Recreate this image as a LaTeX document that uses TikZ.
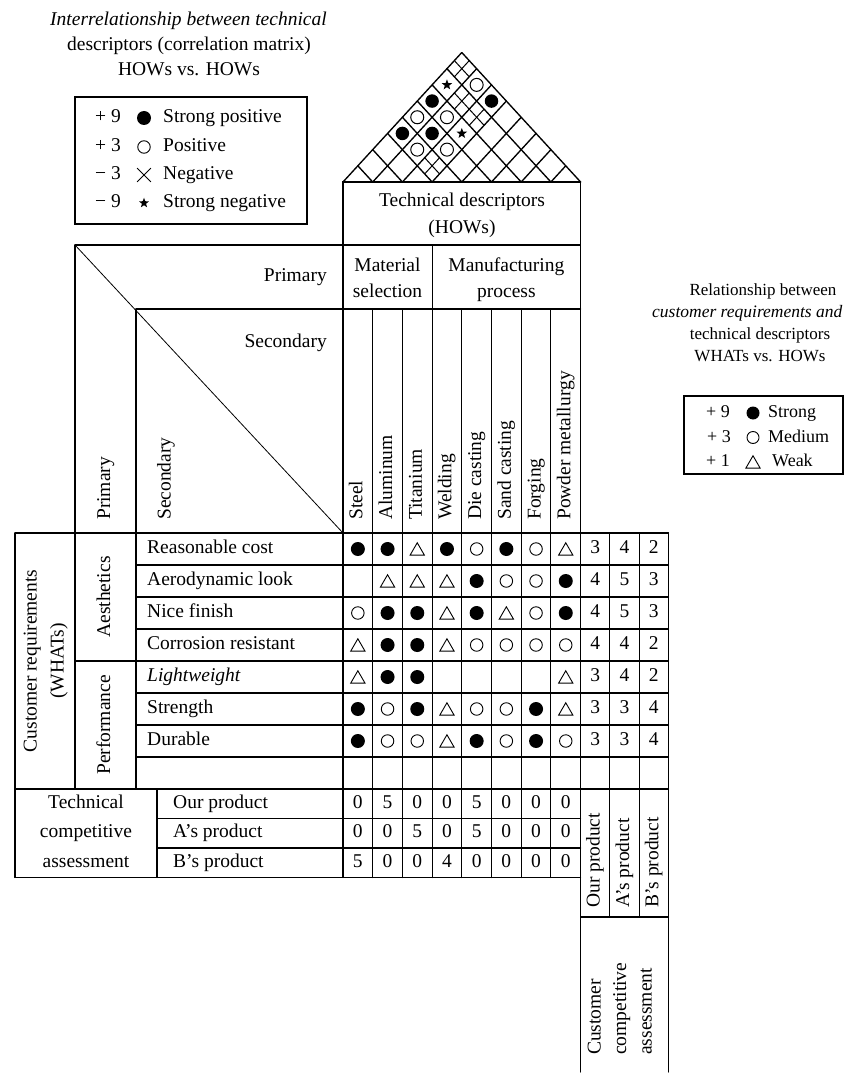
\documentclass[tikz,border=0pt]{standalone}
\usepackage{fontspec}
\setmainfont{Liberation Serif}
\usetikzlibrary{shapes.geometric,shapes.misc}
\begin{document}
\begin{tikzpicture}[x=1pt,y=-1pt,
  ruling/.style={line width=1.1pt, line cap=round},
  diag/.style={line width=0.8pt},
  roofline/.style={line width=1.35pt, line cap=round},
  roofthin/.style={line width=1pt},
  txt/.style={font=\fontsize{19.5}{24}\selectfont, inner sep=0pt, text height=13pt, text depth=4pt},
  ttl/.style={font=\fontsize{17}{22}\selectfont, inner sep=0pt, text height=12pt, text depth=3.5pt},
  legtxt/.style={font=\fontsize{18}{22}\selectfont, inner sep=0pt, text height=12.5pt, text depth=3.5pt},
  fsym/.style={circle, fill=black, inner sep=0pt, minimum size=14pt},
  osym/.style={circle, draw=black, line width=0.9pt, inner sep=0pt, minimum size=12.5pt},
  tsym/.style={regular polygon, regular polygon sides=3, draw=black, line width=0.9pt, inner sep=0pt, minimum size=16.5pt, yshift=-2pt},
  ssym/.style={star, star points=5, star point ratio=2.4, fill=black, inner sep=0pt, minimum size=11pt},
  xsym/.style={cross out, draw=black, line width=0.8pt, inner sep=0pt, minimum size=13pt},
  rf/.style={circle, fill=black, inner sep=0pt, minimum size=13.5pt},
  ro/.style={circle, draw=black, line width=1pt, inner sep=0pt, minimum size=13pt},
]
\useasboundingbox (0,0) rectangle (852,1075);

% ---------- correlation roof ----------
\foreach \k in {0,...,8} {
  \draw[roofline] ({343+29.7*\k},182) -- ({343+29.7*(\k+8)/2},{182-1.09*29.7*(8-\k)/2});
  \draw[roofline] ({343+29.7*\k},182) -- ({343+29.7*\k/2},{182-1.09*29.7*\k/2});
}
\foreach \i/\j in {0/7,1/6,2/6,2/3} {
  \pgfmathsetmacro\cX{343+29.7*((\i+\j)/2+0.5)}
  \pgfmathsetmacro\cY{182-1.09*29.7*(\j-\i)/2}
  \draw[roofthin] ({\cX-7.425},{\cY-8.09}) -- ({\cX+7.425},{\cY+8.09});
  \draw[roofthin] ({\cX+7.425},{\cY-8.09}) -- ({\cX-7.425},{\cY+8.09});
}
\foreach \i/\j/\s in {0/5/rf, 2/7/rf, 0/3/rf, 1/4/rf, 1/7/ro, 0/4/ro, 1/5/ro, 1/3/ro, 2/4/ro, 0/6/ssym, 2/5/ssym}
  \node[\s] (q\i-\j) at ({343+29.7*((\i+\j)/2+0.5)},{182-1.09*29.7*(\j-\i)/2}) {};

% ---------- frame of the house ----------
\draw[ruling] (343,182) rectangle (580.6,245);
\draw[ruling] (75,245) -- (343,245);
\draw[ruling] (136,309) -- (580.6,309);
\draw[ruling] (432.1,245) -- (432.1,309);
\draw[ruling] (343,182) -- (343,877.5);
\draw[ruling] (580.6,182) -- (580.6,1072);
\foreach \k in {1,...,7} \draw[ruling] ({343+29.7*\k},309) -- ({343+29.7*\k},877.5);
\draw[ruling] (75,245) -- (75,789);
\draw[ruling] (136,309) -- (136,789);
\draw[ruling] (15,533) -- (15,877.5);
\draw[ruling] (157,789) -- (157,877.5);
\draw[ruling] (609.9,533) -- (609.9,917);
\draw[ruling] (639.2,533) -- (639.2,917);
\draw[ruling] (668.5,533) -- (668.5,1072);
\draw[ruling] (15,533) -- (668.5,533);
\foreach \r in {1,2,3,5,6,7} \draw[ruling] (136,{533+32*\r}) -- (668.5,{533+32*\r});
\draw[ruling] (75,661) -- (668.5,661);
\draw[ruling] (15,789) -- (668.5,789);
\draw[ruling] (157,818.5) -- (580.6,818.5);
\draw[ruling] (157,848) -- (580.6,848);
\draw[ruling] (15,877.5) -- (580.6,877.5);
\draw[ruling] (580.6,917) -- (668.5,917);
\draw[diag] (75,245) -- (343,533);

% ---------- headings ----------
\node[txt] (td1) at (462,202) {Technical descriptors};
\node[txt] (td2) at (462,229) {(HOWs)};
\node[txt] (ms1) at (387.5,267) {Material};
\node[txt] (ms2) at (387.5,292.5) {selection};
\node[txt] (mp1) at (506.35,267) {Manufacturing};
\node[txt] (mp2) at (506.35,292.5) {process};
\node[txt, anchor=east] (hp) at (327,277) {Primary};
\node[txt, anchor=east] (hs) at (327,343) {Secondary};
\node[txt, rotate=90, anchor=west] (vp) at (105.5,520) {Primary};
\node[txt, rotate=90, anchor=west] (vs) at (166,520) {Secondary};

\foreach \c/\name in {1/Steel, 2/Aluminum, 3/Titanium, 4/Welding, 5/Die casting, 6/Sand casting, 7/Forging, 8/Powder metallurgy}
  \node[txt, rotate=90, anchor=west] (h\c) at ({343+29.7*(\c-0.5)},520) {\name};

% ---------- customer requirements ----------
\node[txt, rotate=90] (cr1) at (32,661) {Customer requirements};
\node[txt, rotate=90] (cr2) at (59,661) {(WHATs)};
\node[txt, rotate=90] (pa) at (105.5,597) {Aesthetics};
\node[txt, rotate=90] (pb) at (105.5,725) {Performance};
\foreach \r/\name in {1/Reasonable cost, 2/Aerodynamic look, 3/Nice finish, 4/Corrosion resistant, 5/\textit{Lightweight}, 6/Strength, 7/Durable}
  \node[txt, anchor=west] (w\r) at (147,{533+32*(\r-0.5)}) {\name};

% ---------- relationship matrix ----------
\foreach \r/\c/\s in {
  1/1/fsym, 1/2/fsym, 1/3/tsym, 1/4/fsym, 1/5/osym, 1/6/fsym, 1/7/osym, 1/8/tsym,
  2/2/tsym, 2/3/tsym, 2/4/tsym, 2/5/fsym, 2/6/osym, 2/7/osym, 2/8/fsym,
  3/1/osym, 3/2/fsym, 3/3/fsym, 3/4/tsym, 3/5/fsym, 3/6/tsym, 3/7/osym, 3/8/fsym,
  4/1/tsym, 4/2/fsym, 4/3/fsym, 4/4/tsym, 4/5/osym, 4/6/osym, 4/7/osym, 4/8/osym,
  5/1/tsym, 5/2/fsym, 5/3/fsym, 5/8/tsym,
  6/1/fsym, 6/2/osym, 6/3/fsym, 6/4/tsym, 6/5/osym, 6/6/osym, 6/7/fsym, 6/8/tsym,
  7/1/fsym, 7/2/osym, 7/3/osym, 7/4/tsym, 7/5/fsym, 7/6/osym, 7/7/fsym, 7/8/osym}
  \node[\s] (m\r-\c) at ({343+29.7*(\c-0.5)},{533+32*(\r-0.5)}) {};

% ---------- customer competitive ratings ----------
\foreach \r/\na/\nb/\nc in {1/3/4/2, 2/4/5/3, 3/4/5/3, 4/4/4/2, 5/3/4/2, 6/3/3/4, 7/3/3/4} {
  \node[txt] (ca\r) at (595.2,{533+32*(\r-0.5)}) {\na};
  \node[txt] (cb\r) at (624.5,{533+32*(\r-0.5)}) {\nb};
  \node[txt] (cc\r) at (653.8,{533+32*(\r-0.5)}) {\nc};
}
\node[txt, rotate=90, anchor=west] (op) at (595.2,908) {Our product};
\node[txt, rotate=90, anchor=west] (ap) at (624.5,908) {A's product};
\node[txt, rotate=90, anchor=west] (bp) at (653.8,908) {B's product};
\node[txt, rotate=90, anchor=west] (cca1) at (596,1055) {Customer};
\node[txt, rotate=90, anchor=west] (cca2) at (621.5,1055) {competitive};
\node[txt, rotate=90, anchor=west] (cca3) at (647,1055) {assessment};

% ---------- technical competitive assessment ----------
\node[txt] (tc1) at (86,803.75) {Technical};
\node[txt] (tc2) at (86,833.25) {competitive};
\node[txt] (tc3) at (86,862.75) {assessment};
\node[txt, anchor=west] (t1) at (173,803.75) {Our product};
\node[txt, anchor=west] (t2) at (173,833.25) {A's product};
\node[txt, anchor=west] (t3) at (173,862.75) {B's product};
\foreach \c/\ta/\tb/\tc in {1/0/0/5, 2/5/0/0, 3/0/5/0, 4/0/0/4, 5/5/5/0, 6/0/0/0, 7/0/0/0, 8/0/0/0} {
  \node[txt] (ta\c) at ({343+29.7*(\c-0.5)},803.75) {\ta};
  \node[txt] (tb\c) at ({343+29.7*(\c-0.5)},833.25) {\tb};
  \node[txt] (tcv\c) at ({343+29.7*(\c-0.5)},862.75) {\tc};
}

% ---------- correlation legend ----------
\node[txt] (lt1) at (188.5,21) {\textit{Interrelationship between technical}};
\node[txt] (lt2) at (189,46) {descriptors (correlation matrix)};
\node[txt] (lt3) at (189,71.5) {HOWs vs. HOWs};
\draw[ruling] (75,97) rectangle (307,224);
\node[txt] (lv1) at (108,118) {+ 9};
\node[txt] (lv2) at (108,147) {+ 3};
\node[txt] (lv3) at (108,175) {− 3};
\node[txt] (lv4) at (108,203) {− 9};
\node[fsym] (ls1) at (144,118) {};
\node[osym] (ls2) at (144,147) {};
\node[xsym] (ls3) at (144,175) {};
\node[ssym, minimum size=10.5pt] (ls4) at (144,203) {};
\node[txt, anchor=west] (ll1) at (163,118) {Strong positive};
\node[txt, anchor=west] (ll2) at (163,147) {Positive};
\node[txt, anchor=west] (ll3) at (163,175) {Negative};
\node[txt, anchor=west] (ll4) at (163,203) {Strong negative};

% ---------- relationship legend ----------
\node[ttl] (rt1) at (763,291) {Relationship between};
\node[ttl, font=\fontsize{17.5}{22}\selectfont, anchor=west] (rt2) at (652,313) {\textit{customer requirements and}};
\node[ttl] (rt3) at (760,335) {technical descriptors};
\node[ttl] (rt4) at (760,357) {WHATs vs. HOWs};
\draw[ruling] (684,396) rectangle (843,474);
\node[legtxt] (rv1) at (718,413) {+ 9};
\node[legtxt] (rv2) at (719,437.5) {+ 3};
\node[legtxt] (rv3) at (718,462) {+ 1};
\node[fsym, minimum size=13pt] (rs1) at (753,413) {};
\node[osym, minimum size=12pt] (rs2) at (753,437.5) {};
\node[tsym] (rs3) at (753,462) {};
\node[legtxt, anchor=west] (rl1) at (768,413) {Strong};
\node[legtxt, anchor=west] (rl2) at (768,437.5) {Medium};
\node[legtxt, anchor=west] (rl3) at (772,462) {Weak};
\end{tikzpicture}
\end{document}
